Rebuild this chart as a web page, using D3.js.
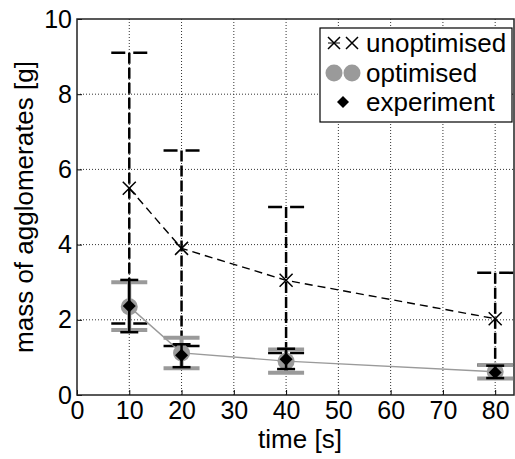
<!DOCTYPE html>
<html>
<head>
<meta charset="utf-8">
<script src="https://cdn.jsdelivr.net/npm/d3@7"></script>
<style>
  body { margin: 0; background: white; }
  svg { font-family: "Liberation Sans", Arial, sans-serif; }
</style>
</head>
<body>
<svg id="chart" width="515" height="459"></svg>
<script>
const times = [10, 20, 40, 80];
const unoptMean = [5.5, 3.9, 3.05, 2.03];
const unoptUpper = [9.1, 6.5, 5.0, 3.25];
const unoptLower = [1.9, 1.3, 1.12, 0.8];
const optMean = [2.35, 1.12, 0.9, 0.62];
const optUpper = [3.0, 1.52, 1.21, 0.8];
const optLower = [1.73, 0.71, 0.59, 0.44];
const expMean = [2.37, 1.06, 0.95, 0.6];
const expUpper = [3.06, 1.35, 1.23, 0.78];
const expLower = [1.67, 0.74, 0.69, 0.45];
const xTicks = [0, 10, 20, 30, 40, 50, 60, 70, 80];
const yTicks = [0, 2, 4, 6, 8, 10];
const legendLabels = ["unoptimised", "optimised", "experiment"];

const svg = d3.select("#chart");
const plotL = 77, plotR = 514, plotT = 19, plotB = 395;

const x = d3.scaleLinear().domain([0, 83.6]).range([plotL, plotR]);
const y = d3.scaleLinear().domain([0, 10]).range([plotB, plotT]);

const grey = "#9a9a9a";

// grid
const grid = svg.append("g");
grid.selectAll(".gx")
    .data(xTicks.slice(1))
    .enter().append("line")
    .attr("x1", d => x(d)).attr("x2", d => x(d))
    .attr("y1", plotT).attr("y2", plotB)
    .attr("stroke", "#333").attr("stroke-width", 1)
    .attr("stroke-dasharray", "1,2");
grid.selectAll(".gy")
    .data(yTicks.slice(1, -1))
    .enter().append("line")
    .attr("x1", plotL).attr("x2", plotR)
    .attr("y1", d => y(d)).attr("y2", d => y(d))
    .attr("stroke", "#333").attr("stroke-width", 1)
    .attr("stroke-dasharray", "1,2");

// axes
const xAxis = svg.append("g")
    .attr("transform", `translate(0,${plotB})`)
    .call(d3.axisBottom(x).tickValues(xTicks).tickSize(-5).tickPadding(6));
const yAxis = svg.append("g")
    .attr("transform", `translate(${plotL},0)`)
    .call(d3.axisLeft(y).tickValues(yTicks).tickSize(-5).tickPadding(5));
[xAxis, yAxis].forEach(a => {
    a.select(".domain").remove();
    a.selectAll("line").attr("stroke", "#000");
    a.selectAll("text").attr("fill", "#000").style("font-size", "25px")
        .attr("font-family", "Liberation Sans, Arial, sans-serif");
});

// box
svg.append("rect")
    .attr("x", plotL).attr("y", plotT)
    .attr("width", plotR - plotL).attr("height", plotB - plotT)
    .attr("fill", "none").attr("stroke", "#222").attr("stroke-width", 1.5);

const idx = d3.range(times.length);
const capW = 18, capS = 9;

// unoptimised error bars
const ue = svg.append("g");
ue.selectAll(".v").data(idx).enter().append("line")
    .attr("x1", i => x(times[i])).attr("x2", i => x(times[i]))
    .attr("y1", i => y(unoptUpper[i])).attr("y2", i => y(unoptLower[i]))
    .attr("stroke", "#000").attr("stroke-width", 2.5)
    .attr("stroke-dasharray", "11,4");
[unoptUpper, unoptLower].forEach(arr => {
    ue.selectAll(null).data(idx).enter().append("line")
        .attr("x1", i => x(times[i]) - capW).attr("x2", i => x(times[i]) + capW)
        .attr("y1", i => y(arr[i])).attr("y2", i => y(arr[i]))
        .attr("stroke", "#000").attr("stroke-width", 2.5)
        .attr("stroke-dasharray", "14,8");
});

// unoptimised line
svg.append("path")
    .datum(idx)
    .attr("d", d3.line().x(i => x(times[i])).y(i => y(unoptMean[i])))
    .attr("fill", "none").attr("stroke", "#000").attr("stroke-width", 1.4)
    .attr("stroke-dasharray", "8,5");

function cross(g, cx, cy, s) {
    g.append("path")
        .attr("d", `M${cx - s},${cy - s}L${cx + s},${cy + s}M${cx - s},${cy + s}L${cx + s},${cy - s}`)
        .attr("stroke", "#000").attr("stroke-width", 1.5).attr("fill", "none");
}
const um = svg.append("g");
idx.forEach(i => cross(um, x(times[i]), y(unoptMean[i]), 6.5));

// optimised
const oe = svg.append("g");
oe.selectAll(".v").data(idx).enter().append("line")
    .attr("x1", i => x(times[i])).attr("x2", i => x(times[i]))
    .attr("y1", i => y(optUpper[i])).attr("y2", i => y(optLower[i]))
    .attr("stroke", grey).attr("stroke-width", 4);
[optUpper, optLower].forEach(arr => {
    oe.selectAll(null).data(idx).enter().append("line")
        .attr("x1", i => x(times[i]) - capW).attr("x2", i => x(times[i]) + capW)
        .attr("y1", i => y(arr[i])).attr("y2", i => y(arr[i]))
        .attr("stroke", grey).attr("stroke-width", 4);
});
svg.append("path")
    .datum(idx)
    .attr("d", d3.line().x(i => x(times[i])).y(i => y(optMean[i])))
    .attr("fill", "none").attr("stroke", grey).attr("stroke-width", 1.4);
svg.selectAll(".oc").data(idx).enter().append("circle")
    .attr("cx", i => x(times[i])).attr("cy", i => y(optMean[i]))
    .attr("r", 8.5).attr("fill", grey);

// experiment
const ee = svg.append("g");
ee.selectAll(".v").data(idx).enter().append("line")
    .attr("x1", i => x(times[i])).attr("x2", i => x(times[i]))
    .attr("y1", i => y(expUpper[i])).attr("y2", i => y(expLower[i]))
    .attr("stroke", "#000").attr("stroke-width", 2.5);
[expUpper, expLower].forEach(arr => {
    ee.selectAll(null).data(idx).enter().append("line")
        .attr("x1", i => x(times[i]) - capS).attr("x2", i => x(times[i]) + capS)
        .attr("y1", i => y(arr[i])).attr("y2", i => y(arr[i]))
        .attr("stroke", "#000").attr("stroke-width", 2.5);
});
const diamond = (cx, cy, s) => `M${cx},${cy - s}L${cx + s},${cy}L${cx},${cy + s}L${cx - s},${cy}Z`;
svg.selectAll(".ed").data(idx).enter().append("path")
    .attr("d", i => diamond(x(times[i]), y(expMean[i]), 6.5))
    .attr("fill", "#000");

// legend
const lg = svg.append("g");
lg.append("rect")
    .attr("x", 320).attr("y", 28).attr("width", 192).attr("height", 94)
    .attr("fill", "white").attr("stroke", "#000").attr("stroke-width", 1.2);
const rows = [43, 73, 102];
cross(lg, 334, rows[0], 6);
cross(lg, 352, rows[0], 6);
lg.append("line").attr("x1", 328).attr("x2", 340).attr("y1", rows[0]).attr("y2", rows[0])
    .attr("stroke", "#000").attr("stroke-width", 1);
lg.append("circle").attr("cx", 334).attr("cy", rows[1]).attr("r", 8.5).attr("fill", grey);
lg.append("circle").attr("cx", 352).attr("cy", rows[1]).attr("r", 8.5).attr("fill", grey);
lg.append("path").attr("d", diamond(343, rows[2], 6)).attr("fill", "#000");
lg.selectAll("text").data(legendLabels).enter().append("text")
    .attr("x", 366).attr("y", (d, i) => rows[i] + 9)
    .style("font-size", "26px")
    .text(d => d);

// axis labels
svg.append("text")
    .attr("x", 300).attr("y", 448)
    .attr("text-anchor", "middle")
    .style("font-size", "26px")
    .text("time [s]");
svg.append("text")
    .attr("transform", "translate(33,207) rotate(-90)")
    .attr("text-anchor", "middle")
    .style("font-size", "26px")
    .text("mass of agglomerates [g]");
</script>
</body>
</html>
